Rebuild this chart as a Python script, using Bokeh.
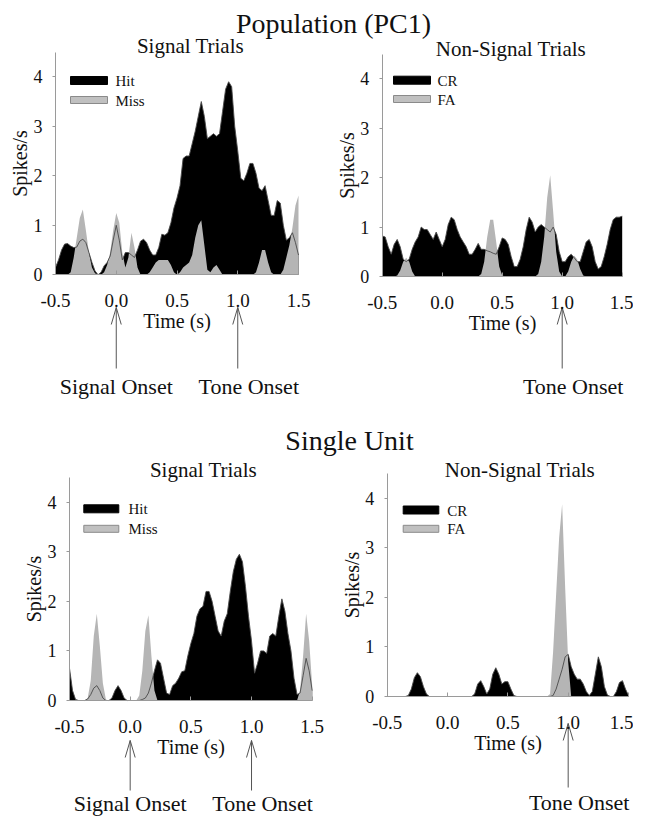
from bokeh.plotting import figure
from bokeh.models import Range1d, LinearAxis, FixedTicker, PrintfTickFormatter, Label
from bokeh.embed import file_html
from bokeh.resources import INLINE

# ---------------- data ----------------
time_s = [round(-0.5 + 0.025 * i, 3) for i in range(81)]

pop_hit = [0.15, 0.3, 0.5, 0.62, 0.63, 0.58, 0.55, 0.56, 0.68, 0.72,
           0.65, 0.45, 0.25, 0.08, 0.0, 0.05, 0.18, 0.25, 0.38, 0.7,
           1.0, 0.7, 0.3, 0.45, 0.45, 0.4, 0.35, 0.5, 0.68, 0.72,
           0.65, 0.5, 0.4, 0.4, 0.55, 0.82, 0.8, 0.85, 1.05, 1.35,
           1.55, 1.8, 2.35, 2.4, 2.4, 2.65, 2.9, 3.2, 3.5, 3.2,
           2.75, 2.8, 2.85, 2.8, 2.85, 3.3, 3.75, 3.9, 3.8, 3.0,
           2.5, 1.95, 1.9, 2.05, 2.25, 2.25, 2.05, 1.75, 1.7, 1.8,
           1.5, 1.2, 1.2, 1.5, 1.45, 1.0, 0.7, 0.75, 0.85, 0.65,
           0.4]
pop_miss = [0, 0, 0, 0, 0, 0.05, 0.35, 0.75, 1.15, 1.32,
            0.9, 0.45, 0.15, 0.03, 0, 0, 0.05, 0.2, 0.45, 0.9,
            1.25, 1.05, 0.45, 0.15, 0.35, 0.85, 0.55, 0.15, 0, 0,
            0, 0.05, 0.15, 0.25, 0.3, 0.3, 0.3, 0.3, 0.2, 0.05,
            0, 0.05, 0.15, 0.2, 0.25, 0.4, 0.75, 1.0, 1.1, 0.6,
            0.1, 0.05, 0.15, 0.2, 0.1, 0, 0, 0, 0, 0,
            0, 0, 0, 0, 0, 0, 0.05, 0.25, 0.5, 0.5,
            0.25, 0.05, 0, 0, 0, 0.1, 0.35, 0.6, 0.95, 1.4,
            1.6]
pop_cr = [0.82, 0.8, 0.6, 0.45, 0.65, 0.75, 0.6, 0.35, 0.3, 0.35,
          0.55, 0.7, 0.8, 1.0, 0.95, 0.95, 0.85, 0.75, 0.9, 0.75,
          0.6, 0.75, 1.05, 1.2, 1.15, 0.95, 0.8, 0.7, 0.6, 0.45,
          0.45, 0.55, 0.67, 0.55, 0.55, 0.52, 0.5, 0.47, 0.45, 0.6,
          0.78, 0.75, 0.65, 0.4, 0.2, 0.2, 0.35, 0.6, 0.95, 1.2,
          1.1, 0.9, 1.0, 1.05, 1.0, 0.95, 0.9, 1.0, 0.85, 0.5,
          0.3, 0.3, 0.4, 0.45, 0.38, 0.3, 0.3, 0.5, 0.7, 0.75,
          0.6, 0.3, 0.15, 0.2, 0.4, 0.65, 0.95, 1.15, 1.2, 1.2,
          1.22]
pop_fa = [0, 0, 0, 0, 0, 0.02, 0.12, 0.3, 0.38, 0.3,
          0.1, 0, 0, 0, 0, 0, 0, 0, 0, 0,
          0, 0, 0, 0, 0, 0, 0, 0, 0, 0,
          0, 0, 0, 0.05, 0.3, 0.8, 1.15, 1.15, 0.7, 0.2,
          0.02, 0, 0, 0, 0, 0, 0, 0, 0, 0,
          0, 0, 0.05, 0.3, 0.8, 1.6, 2.05, 1.3, 0.5, 0.1,
          0, 0, 0.1, 0.3, 0.42, 0.35, 0.15, 0.02, 0, 0,
          0, 0, 0, 0, 0, 0, 0, 0, 0, 0,
          0]
unit_hit = [0.65, 0.2, 0.02, 0, 0, 0, 0.03, 0.12, 0.25, 0.3,
            0.2, 0.05, 0, 0, 0.05, 0.2, 0.3, 0.2, 0.05, 0,
            0, 0, 0, 0, 0.02, 0.05, 0.15, 0.35, 0.6, 0.82,
            0.75, 0.45, 0.15, 0.12, 0.3, 0.35, 0.45, 0.58, 0.6, 0.9,
            1.15, 1.35, 1.7, 1.85, 1.9, 2.2, 2.2, 2.0, 1.7, 1.4,
            1.3, 1.6, 1.75, 2.2, 2.6, 2.85, 2.95, 2.8, 2.3, 1.7,
            1.2, 0.55, 0.75, 1.0, 1.0, 0.95, 1.3, 1.35, 1.3, 1.7,
            2.05, 1.8, 1.35, 1.0, 0.45, 0.12, 0.15, 0.5, 0.85, 0.6,
            0.2]
unit_miss = [0, 0, 0, 0, 0, 0, 0.05, 0.4, 1.3, 1.75,
             1.1, 0.35, 0.02, 0, 0, 0, 0, 0, 0, 0,
             0, 0, 0, 0.1, 0.6, 1.4, 1.72, 0.9, 0.2, 0,
             0, 0, 0, 0, 0, 0, 0, 0, 0, 0,
             0, 0, 0, 0, 0, 0, 0, 0, 0, 0,
             0, 0, 0, 0, 0, 0, 0, 0, 0, 0,
             0, 0, 0, 0, 0, 0, 0, 0, 0, 0,
             0, 0, 0, 0, 0, 0, 0.2, 0.9, 1.75, 1.2,
             0.3]
unit_cr = [0, 0, 0, 0, 0, 0, 0, 0.02, 0.15, 0.38,
           0.48, 0.4, 0.2, 0.05, 0, 0, 0, 0, 0, 0,
           0, 0, 0, 0, 0, 0, 0, 0, 0, 0.05,
           0.25, 0.32, 0.2, 0.05, 0.15, 0.45, 0.58, 0.45, 0.25, 0.3,
           0.3, 0.15, 0.02, 0, 0, 0, 0, 0, 0, 0,
           0, 0, 0, 0, 0, 0.02, 0.15, 0.35, 0.55, 0.8,
           0.85, 0.6, 0.45, 0.35, 0.35, 0.25, 0.1, 0.02, 0.1, 0.45,
           0.8, 0.6, 0.2, 0.03, 0, 0, 0.1, 0.28, 0.32, 0.15,
           0.02]
unit_fa = [0, 0, 0, 0, 0, 0, 0, 0, 0, 0,
           0, 0, 0, 0, 0, 0, 0, 0, 0, 0,
           0, 0, 0, 0, 0, 0, 0, 0, 0, 0,
           0, 0, 0, 0, 0, 0, 0, 0, 0, 0,
           0, 0, 0, 0, 0, 0, 0, 0, 0, 0,
           0, 0, 0, 0, 0.05, 0.9, 2.05, 3.2, 3.88, 2.2,
           0.7, 0, 0, 0, 0, 0, 0, 0, 0, 0,
           0, 0, 0, 0, 0, 0, 0, 0, 0, 0,
           0]

x_ticks = [-0.5, 0.0, 0.5, 1.0, 1.5]
y_ticks = [0, 1, 2, 3, 4]
section_titles = ["Population (PC1)", "Single Unit"]
panel_titles = ["Signal Trials", "Non-Signal Trials", "Signal Trials", "Non-Signal Trials"]
legend_labels = [["Hit", "Miss"], ["CR", "FA"], ["Hit", "Miss"], ["CR", "FA"]]
onset_names = [["Signal Onset", "Tone Onset"], ["Tone Onset"],
               ["Signal Onset", "Tone Onset"], ["Tone Onset"]]
onset_times = [[0.0, 1.0], [1.0], [0.0, 1.0], [1.0]]
series_black = [pop_hit, pop_cr, unit_hit, unit_cr]
series_gray = [pop_miss, pop_fa, unit_miss, unit_fa]

for s in series_black + series_gray:
    assert len(s) == len(time_s)

# ---------------- layout (picture pixels) ----------------
W, H, M = 633, 816, 0
FONT = "Liberation Serif"
AX = "#9a9a9a"
GRAY = "#b5b5b5"
BASE_SHIFT = 0.3  # text renders this many em below the requested alphabetic baseline

layout = [
    dict(xpx=(55, 298), ypx=(274.3, 76.3), title=(190, 52), sw=(70, 107), rows=(80, 99.5), tx=115,
         arrow=(307, 368), lab_y=392.5),
    dict(xpx=(381.7, 621.7), ypx=(276, 78.3), title=(510.5, 55), sw=(393, 430), rows=(79.7, 98.5), tx=437,
         arrow=(307, 368), lab_y=392.5),
    dict(xpx=(69, 311.7), ypx=(700, 501.7), title=(203, 476), sw=(83.3, 118.3), rows=(508.3, 528.3), tx=128,
         arrow=(740, 790), lab_y=810),
    dict(xpx=(386.7, 628), ypx=(696, 497.7), title=(519.5, 476), sw=(402.7, 438.3), rows=(509.5, 528.3), tx=446.7,
         arrow=(723, 787), lab_y=809),
]
section_pos = [(333, 31), (349, 448)]

p = figure(width=W, height=H, x_range=Range1d(0, W), y_range=Range1d(H, 0),
           x_axis_type=None, y_axis_type=None, toolbar_location=None,
           output_backend="svg", min_border=0)
p.outline_line_color = None
p.background_fill_color = "white"
p.border_fill_color = "white"


def xrange_for(lo, hi):
    a, b = lo - M, hi - M
    s = (b - a) / 2.0
    return Range1d(start=-0.5 - a / s, end=-0.5 + (W - a) / s), s


def yrange_for(y0, y4):
    a, b = y0 - M, y4 - M
    s = (a - b) / 4.0
    return Range1d(start=(a - H) / s, end=a / s), s


xr, yr = {}, {}
for i, L in enumerate(layout):
    xr[f"x{i}"], L["sx"] = xrange_for(*L["xpx"])
    yr[f"y{i}"], L["sy"] = yrange_for(*L["ypx"])
p.extra_x_ranges = xr
p.extra_y_ranges = yr


def lbl(x, y, text, size, align="center", **kw):
    p.add_layout(Label(x=x, y=y - BASE_SHIFT * size, text=text, text_font=FONT,
                       text_font_size=f"{size}px", text_align=align,
                       text_baseline="alphabetic", text_color="#111111", **kw))


for (cx, cy), t in zip(section_pos, section_titles):
    lbl(cx - M, cy - M, t, 28)

for i, L in enumerate(layout):
    xn, yn = f"x{i}", f"y{i}"
    blk, gry = series_black[i], series_gray[i]
    p.varea(x=time_s, y1=0, y2=blk, fill_color="black", x_range_name=xn, y_range_name=yn)
    p.varea(x=time_s, y1=0, y2=gry, fill_color=GRAY, x_range_name=xn, y_range_name=yn)
    p.line(x=time_s, y=blk, line_color="#4a4a4a", line_width=0.9, x_range_name=xn, y_range_name=yn)

    xa = LinearAxis(x_range_name=xn, y_range_name=yn, fixed_location=0, bounds=(-0.5, 1.5),
                    ticker=FixedTicker(ticks=x_ticks), formatter=PrintfTickFormatter(format="%.1f"),
                    axis_label="Time (s)")
    ya = LinearAxis(x_range_name=xn, y_range_name=yn, fixed_location=-0.5, bounds=(0, 4.5),
                    ticker=FixedTicker(ticks=y_ticks), axis_label="Spikes/s")
    for ax in (xa, ya):
        ax.axis_line_color = AX
        ax.major_tick_line_color = AX
        ax.minor_tick_line_color = None
        ax.major_label_text_font = FONT
        ax.major_label_text_color = "#111111"
        ax.axis_label_text_font = FONT
        ax.axis_label_text_font_size = "20px"
        ax.axis_label_text_font_style = "normal"
        ax.axis_label_text_color = "#111111"
    xa.major_label_text_font_size = "19px"
    ya.major_label_text_font_size = "18px"
    xa.major_tick_in, xa.major_tick_out = 4, 0
    xa.major_label_standoff = 19
    xa.axis_label_standoff = 0
    ya.major_tick_in, ya.major_tick_out = 0, 3
    ya.major_label_standoff = 10
    ya.axis_label_standoff = 0
    p.add_layout(xa, "below")
    p.add_layout(ya, "left")

    # panel title
    lbl(L["title"][0] - M, L["title"][1] - M, panel_titles[i], 21)

    # legend
    x0, x1 = L["sw"][0] - M, L["sw"][1] - M
    ry = [r - M for r in L["rows"]]
    p.quad(left=[x0], right=[x1], top=[ry[0] - 4], bottom=[ry[0] + 4],
           fill_color="black", line_color="black")
    p.quad(left=[x0], right=[x1], top=[ry[1] - 3.5], bottom=[ry[1] + 3.5],
           fill_color="#c0c0c0", line_color="#8a8a8a", line_width=1)
    for r, t in zip(ry, legend_labels[i]):
        lbl(L["tx"] - M, r + 5, t, 15, align="left")

    # onset arrows
    tip, base = L["arrow"][0] - M, L["arrow"][1] - M
    hw = 5.0 / L["sx"]
    for name, t in zip(onset_names[i], onset_times[i]):
        p.segment(x0=[t, t, t], y0=[tip, tip, tip], x1=[t, t - hw, t + hw], y1=[base, tip + 17, tip + 17],
                  line_color="#555555", line_width=1, x_range_name=xn)
        off = 0 if name.startswith("Signal") else 11
        p.add_layout(Label(x=t, y=L["lab_y"] - M - BASE_SHIFT * 22, x_offset=off, text=name,
                           x_range_name=xn, text_font=FONT, text_font_size="22px",
                           text_align="center", text_baseline="alphabetic", text_color="#111111"))

open("out.html", "w").write(file_html(p, INLINE))
